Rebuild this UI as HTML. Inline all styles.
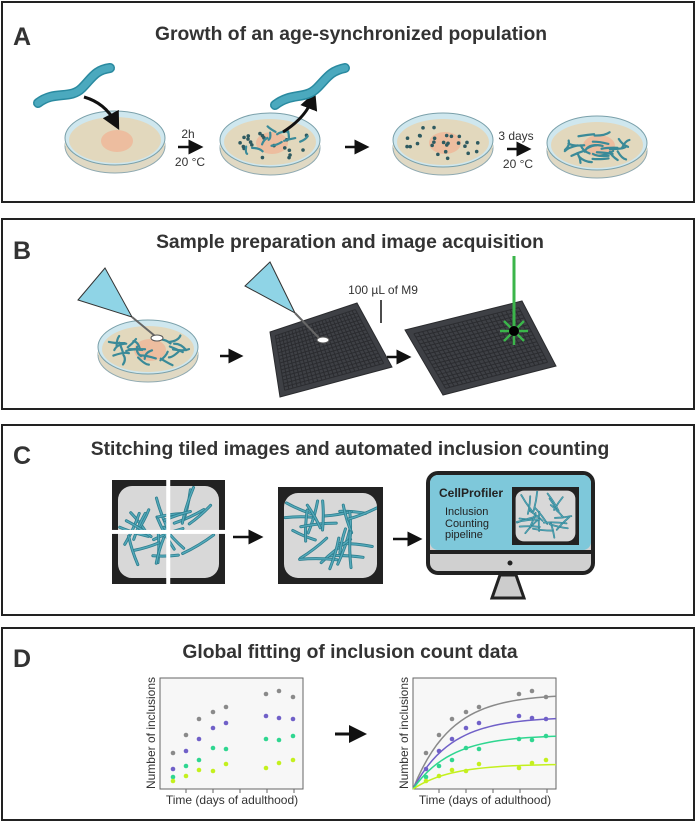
<!DOCTYPE html>
<html><head><meta charset="utf-8"><style>
body{margin:0;background:#fff;}
svg{display:block;font-family:"Liberation Sans",sans-serif;}
</style></head><body>
<svg id="s" width="699" height="832" viewBox="0 0 699 832" xmlns="http://www.w3.org/2000/svg">
<defs>
<marker id="ah" markerWidth="6" markerHeight="6" refX="3" refY="3" orient="auto"><path d="M0,0 L6,3 L0,6 z" fill="#111"/></marker>
<clipPath id="c1"><rect x="118" y="486" width="101" height="92" rx="14"/></clipPath>
<clipPath id="c2"><rect x="284" y="493" width="93" height="85" rx="14"/></clipPath>
<clipPath id="c3"><rect x="516" y="491" width="59" height="50" rx="9"/></clipPath>
</defs>
<rect x="2" y="2" width="692" height="200" fill="#fff" stroke="#222" stroke-width="2"/>
<rect x="2" y="219" width="692" height="190" fill="#fff" stroke="#222" stroke-width="2"/>
<rect x="2" y="425" width="692" height="190" fill="#fff" stroke="#222" stroke-width="2"/>
<rect x="2" y="628" width="692" height="192" fill="#fff" stroke="#222" stroke-width="2"/>
<g font-weight="bold" fill="#333">
<text x="13" y="45" font-size="25">A</text>
<text x="13" y="259" font-size="25">B</text>
<text x="13" y="464" font-size="25">C</text>
<text x="13" y="667" font-size="25">D</text>
<text x="351" y="40" font-size="19.3" text-anchor="middle">Growth of an age-synchronized population</text>
<text x="350" y="248" font-size="19.3" text-anchor="middle">Sample preparation and image acquisition</text>
<text x="350" y="455" font-size="19.3" text-anchor="middle">Stitching tiled images and automated inclusion counting</text>
<text x="350" y="658" font-size="19.3" text-anchor="middle">Global fitting of inclusion count data</text>
</g>
<g id="dishes"></g>
<g stroke="#111" stroke-width="2.5" fill="none">
<line x1="178" y1="147" x2="196" y2="147" marker-end="url(#ah)"/>
<line x1="345" y1="147" x2="362" y2="147" marker-end="url(#ah)"/>
<line x1="507" y1="149" x2="524" y2="149" marker-end="url(#ah)"/>
<line x1="220" y1="356" x2="236" y2="356" marker-end="url(#ah)"/>
<line x1="387" y1="357" x2="404" y2="357" marker-end="url(#ah)"/>
<line x1="233" y1="537" x2="256" y2="537" marker-end="url(#ah)"/>
<line x1="393" y1="539" x2="415" y2="539" marker-end="url(#ah)"/>
<line x1="335" y1="734" x2="358" y2="734" stroke-width="3" marker-end="url(#ah)"/>
<path d="M84,97 Q105,103 115,122" stroke-width="3" marker-end="url(#ah)"/>
<path d="M283,132 Q305,118 312,100" stroke-width="3" marker-end="url(#ah)"/>
</g>
<g font-size="12" fill="#333" text-anchor="middle">
<text x="188" y="138">2h</text><text x="190" y="166">20 °C</text>
<text x="516" y="140">3 days</text><text x="518" y="168">20 °C</text>
<text x="383" y="294">100 µL of M9</text>
</g>
<path d="M38,103 C55,90 70,100 82,88 C92,78 95,70 110,68" stroke="#2a8aa0" stroke-width="10" fill="none" stroke-linecap="round"/>
<path d="M38,103 C55,90 70,100 82,88 C92,78 95,70 110,68" stroke="#4ba9be" stroke-width="7" fill="none" stroke-linecap="round"/>
<path d="M275,105 C292,92 305,100 317,88 C327,78 330,71 345,68" stroke="#2a8aa0" stroke-width="10" fill="none" stroke-linecap="round"/>
<path d="M275,105 C292,92 305,100 317,88 C327,78 330,71 345,68" stroke="#4ba9be" stroke-width="7" fill="none" stroke-linecap="round"/>
<g id="plates"></g>
<line x1="381" y1="300" x2="381" y2="323" stroke="#111" stroke-width="1.5"/>
<line x1="514" y1="256" x2="514" y2="330" stroke="#3bb54a" stroke-width="3"/>
<g stroke="#3bb54a" stroke-width="2.5">
<line x1="500" y1="331" x2="528" y2="331"/><line x1="514" y1="317" x2="514" y2="345"/>
<line x1="504" y1="321" x2="524" y2="341"/><line x1="524" y1="321" x2="504" y2="341"/>
</g>
<circle cx="514" cy="331" r="5" fill="#000"/>
<path d="M78,300 L105,268 L132,317 Z" fill="#8fd4e6" stroke="#333"/>
<line x1="132" y1="317" x2="155" y2="336" stroke="#666" stroke-width="2"/>
<ellipse cx="157" cy="338" rx="6" ry="3" fill="#fff" stroke="#555"/>
<path d="M245,286 L270,262 L295,313 Z" fill="#8fd4e6" stroke="#333"/>
<line x1="295" y1="313" x2="320" y2="339" stroke="#666" stroke-width="2"/>
<ellipse cx="323" cy="340" rx="6" ry="3" fill="#fff" stroke="#555"/>
<g id="imgs"></g>
<path d="M492,598 L500,575 L516,575 L524,598 Z" fill="#ccc" stroke="#222" stroke-width="3"/>
<rect x="428" y="473" width="165" height="100" rx="10" fill="#d0d0d0" stroke="#222" stroke-width="4"/>
<rect x="430" y="475" width="161" height="75" rx="8" fill="#7ec8da"/>
<line x1="430" y1="552" x2="591" y2="552" stroke="#222" stroke-width="4"/>
<circle cx="510" cy="563" r="2.5" fill="#222"/>
<text x="439" y="497" font-size="12" font-weight="bold" fill="#222">CellProfiler</text>
<g font-size="11" fill="#222"><text x="445" y="515">Inclusion</text><text x="445" y="527">Counting</text><text x="445" y="538">pipeline</text></g>
<g id="imgs2"></g>
<g id="plots"></g>
</svg>
<script>
var NS="http://www.w3.org/2000/svg";
function el(p,t,a){var e=document.createElementNS(NS,t);for(var k in a)e.setAttribute(k,a[k]);p.appendChild(e);return e;}
var seed=7;function r(){seed=(seed*9301+49297)%233280;return seed/233280;}
function worm(g,x,y,len,w,col){var a=r()*6.28,dx=Math.cos(a)*len,dy=Math.sin(a)*len*0.6;
var d="M"+(x-dx/2)+","+(y-dy/2)+" Q"+(x+(r()-.5)*len*.5)+","+(y+(r()-.5)*len*.5)+" "+(x+dx/2)+","+(y+dy/2);
el(g,"path",{d:d,stroke:col||"#3a8a98",'stroke-width':w,fill:"none",'stroke-linecap':"round"});}
function rod(g,x,y,len,w){var a=r()*6.28,dx=Math.cos(a)*len/2,dy=Math.sin(a)*len/2;
var d="M"+(x-dx)+","+(y-dy)+" Q"+(x+dy*0.1)+","+(y-dx*0.1)+" "+(x+dx)+","+(y+dy);
el(g,"path",{d:d,stroke:"#2e7f8f",'stroke-width':w,fill:"none",'stroke-linecap':"round"});
el(g,"path",{d:d,stroke:"#55aabb",'stroke-width':w*0.45,fill:"none",'stroke-linecap':"round"});}
var D=document.getElementById("dishes");
function dish(cx,cy,type){
el(D,"ellipse",{cx:cx,cy:cy+8,rx:50,ry:27,fill:"#e0d9c4",stroke:"#8fa9b0"});
el(D,"rect",{x:cx-50,y:cy,width:100,height:8,fill:"#e0d9c4"});
el(D,"ellipse",{cx:cx,cy:cy,rx:50,ry:27,fill:"#cfe7ee",stroke:"#7aa0aa"});
el(D,"ellipse",{cx:cx,cy:cy+2,rx:46,ry:23,fill:"#e2d8bd"});
el(D,"ellipse",{cx:cx+2,cy:cy+3,rx:16,ry:11,fill:"#efb99a",opacity:.85});
var i;
if(type==1||type==2){for(i=0;i<(type==1?20:26);i++){var a=r()*6.28,rr=Math.sqrt(r());el(D,"circle",{cx:cx+Math.cos(a)*40*rr,cy:cy+2+Math.sin(a)*18*rr,r:1.8,fill:"#2e5a60"});}}
if(type==1||type==3){for(i=0;i<(type==3?22:10);i++){var a=r()*6.28,rr=Math.sqrt(r());worm(D,cx+Math.cos(a)*36*rr,cy+2+Math.sin(a)*16*rr,type==3?16:12,2.2);}}
}
dish(115,138,0);dish(270,140,1);dish(443,140,2);dish(597,143,3);dish(148,347,3);
var P=document.getElementById("plates");
function plate(pts){
el(P,"polygon",{points:pts.map(function(p){return p.join(",")}).join(" "),fill:"#3e4045",stroke:"#2a2b2e"});
var a=pts[0],b=pts[1],c=pts[2],d=pts[3];
function lerp(p,q,t){return [p[0]+(q[0]-p[0])*t,p[1]+(q[1]-p[1])*t];}
var i;for(i=0;i<=24;i++){var t=0.05+0.9*i/24;var p=lerp(lerp(a,d,.08),lerp(b,c,.08),t),q=lerp(lerp(a,d,.92),lerp(b,c,.92),t);
el(P,"line",{x1:p[0],y1:p[1],x2:q[0],y2:q[1],stroke:"#2b2c30",'stroke-width':1});}
for(i=0;i<=16;i++){var t=0.08+0.84*i/16;var p=lerp(lerp(a,b,.05),lerp(d,c,.05),t),q=lerp(lerp(a,b,.95),lerp(d,c,.95),t);
el(P,"line",{x1:p[0],y1:p[1],x2:q[0],y2:q[1],stroke:"#2b2c30",'stroke-width':1});}
}
plate([[270,332],[357,303],[392,367],[280,397]]);
plate([[405,330],[522,301],[556,366],[443,395]]);
function img(g,x,y,w,h,split,sc,clip){
el(g,"rect",{x:x,y:y,width:w,height:h,fill:"#222"});
el(g,"rect",{x:x+6*sc,y:y+6*sc,width:w-12*sc,height:h-12*sc,rx:14*sc,fill:"#d8d8d8"});
var gg=el(g,"g",{'clip-path':"url(#"+clip+")"});
for(var i=0;i<22;i++){rod(gg,x+20*sc+r()*(w-40*sc),y+20*sc+r()*(h-40*sc),(24+r()*14)*sc,3*sc);}
if(split){el(g,"rect",{x:x+w*0.48,y:y,width:4,height:h,fill:"#fff"});el(g,"rect",{x:x,y:y+h*0.48,width:w,height:4,fill:"#fff"});}
}
img(document.getElementById("imgs"),112,480,113,104,true,1,"c1");
img(document.getElementById("imgs"),278,487,105,97,false,1,"c2");
img(document.getElementById("imgs2"),512,487,67,58,false,0.6,"c3");
var G=document.getElementById("plots");
var xs=[0,13,26,40,53,93,106,120];
var ys={"#8a8a8a":[753,735,719,712,707,694,691,697],"#7060c8":[769,751,739,728,723,716,718,719],"#2fd690":[777,766,760,748,749,739,740,736],"#c4f01e":[781,776,770,771,764,768,763,760]};
var fin={"#8a8a8a":694,"#7060c8":717,"#2fd690":735,"#c4f01e":764};
function plot(x0,fit){
el(G,"rect",{x:x0,y:678,width:143,height:111,fill:"#f7f7f7",stroke:"#666"});
for(var t=0;t<5;t++)el(G,"line",{x1:x0+26+t*27,y1:789,x2:x0+26+t*27,y2:793,stroke:"#666"});
var tx=el(G,"text",{x:x0+72,y:804,'font-size':12,fill:"#333",'text-anchor':"middle"});tx.textContent="Time (days of adulthood)";
var ty=el(G,"text",{x:0,y:0,'font-size':12,fill:"#333",'text-anchor':"middle",transform:"translate("+(x0-5)+",733) rotate(-90)"});ty.textContent="Number of inclusions";
for(var c in ys){
if(fit){var d="M"+x0+",789";for(var k=1;k<=30;k++){var xx=k/30*143;var yy=789-(789-fin[c])*(1-Math.exp(-xx/38));d+=" L"+(x0+xx)+","+yy;}
el(G,"path",{d:d,stroke:c,'stroke-width':1.5,fill:"none"});}
for(var j=0;j<8;j++)el(G,"circle",{cx:x0+13+xs[j],cy:ys[c][j],r:2.3,fill:c});}
}
plot(160,false);plot(413,true);
</script>
</body></html>
